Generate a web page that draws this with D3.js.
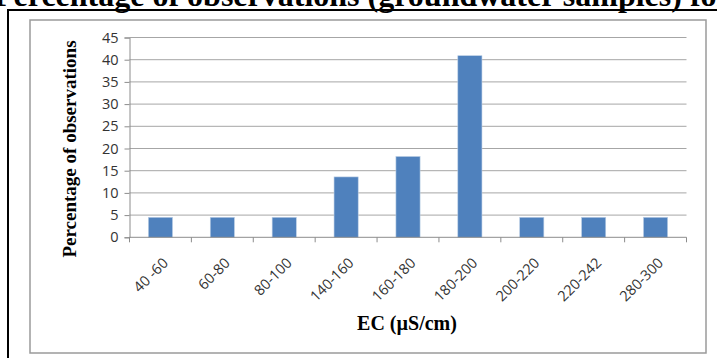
<!DOCTYPE html>
<html><head><meta charset="utf-8">
<script src="https://cdn.jsdelivr.net/npm/d3@7"></script>
<style>html,body{margin:0;padding:0;background:#fff;overflow:hidden}</style>
</head><body>
<svg id="c" width="717" height="358"></svg>
<script>
const categories = ["40 -60","60-80","80-100","140-160","160-180","180-200","200-220","220-242","280-300"];
const values = [4.5,4.5,4.5,13.6,18.2,40.9,4.5,4.5,4.5];
const yTicks = [0,5,10,15,20,25,30,35,40,45];
const titleText = "Percentage of observations (groundwater samples) for EC";
const yTitle = "Percentage of observations";
const xTitle = "EC (\u00B5S/cm)";

const svg = d3.select("#c");
// title (partially clipped at top, as in the reference)
svg.append("text").attr("x",-6).attr("y",6)
  .attr("font-family","Liberation Serif").attr("font-weight","bold").attr("font-size",32)
  .attr("fill","#000").text(titleText);
// black frame (left and top)
svg.append("path").attr("d","M8,358 V10 H717").attr("fill","none").attr("stroke","#000").attr("stroke-width",2);
// inner chart box
svg.append("rect").attr("x",30).attr("y",20).attr("width",676).attr("height",333)
  .attr("fill","#fff").attr("stroke","#9a9a9a").attr("stroke-width",1.5);

const pL=129.5, pR=686.5, pT=37.5, pB=237.3;
const x = d3.scaleBand().domain(categories).range([pL,pR]).paddingInner(0.61).paddingOuter(0.305);
const xb = d3.scaleBand().domain(categories).range([pL,pR]);
const y = d3.scaleLinear().domain([0,45]).range([pB,pT]);

// gridlines
svg.append("g").selectAll("line").data(yTicks.filter(d=>d>0)).join("line")
  .attr("x1",pL).attr("x2",pR).attr("y1",d=>y(d)).attr("y2",d=>y(d))
  .attr("stroke","#a6a6a6").attr("stroke-width",1);

// y axis
const ya = svg.append("g").attr("transform",`translate(${pL},0)`)
  .call(d3.axisLeft(y).tickValues(yTicks).tickSize(5).tickPadding(6));
ya.select(".domain").attr("stroke","#8c8c8c");
ya.selectAll(".tick line").attr("stroke","#8c8c8c");
ya.selectAll(".tick text").attr("font-family","Open Sans").attr("font-size",14.5).attr("fill","#333");

// bars
svg.append("g").selectAll("rect").data(values).join("rect")
  .attr("x",(d,i)=>x(categories[i])).attr("width",x.bandwidth())
  .attr("y",d=>y(d)).attr("height",d=>pB-y(d))
  .attr("fill","#4f81bd").attr("stroke","#b9cde5").attr("stroke-width",0.6);

// x axis
const xa = svg.append("g").attr("transform",`translate(0,${pB})`)
  .call(d3.axisBottom(xb).tickSize(0).tickFormat(""));
xa.select(".domain").attr("stroke","#8c8c8c").attr("d",`M${pL},0H${pR}`);
const bounds = categories.map(c=>xb(c)).concat([pR]);
xa.append("g").selectAll("line").data(bounds).join("line")
  .attr("x1",d=>d).attr("x2",d=>d).attr("y1",0).attr("y2",5).attr("stroke","#8c8c8c");
svg.append("g").selectAll("text").data(categories).join("text")
  .attr("transform",d=>`translate(${xb(d)+xb.bandwidth()/2+5},${pB+23}) rotate(-45)`)
  .attr("text-anchor","end").attr("dy","0.35em")
  .attr("font-family","Open Sans").attr("font-size",14.5).attr("fill","#333").text(d=>d);

// axis titles
svg.append("text").attr("transform","translate(76,149) rotate(-90)").attr("text-anchor","middle")
  .attr("font-family","Liberation Serif").attr("font-weight","bold").attr("font-size",19).attr("fill","#000").text(yTitle);
svg.append("text").attr("x",407).attr("y",330).attr("text-anchor","middle")
  .attr("font-family","Liberation Serif").attr("font-weight","bold").attr("font-size",20).attr("fill","#000").text(xTitle);
</script>
</body></html>
